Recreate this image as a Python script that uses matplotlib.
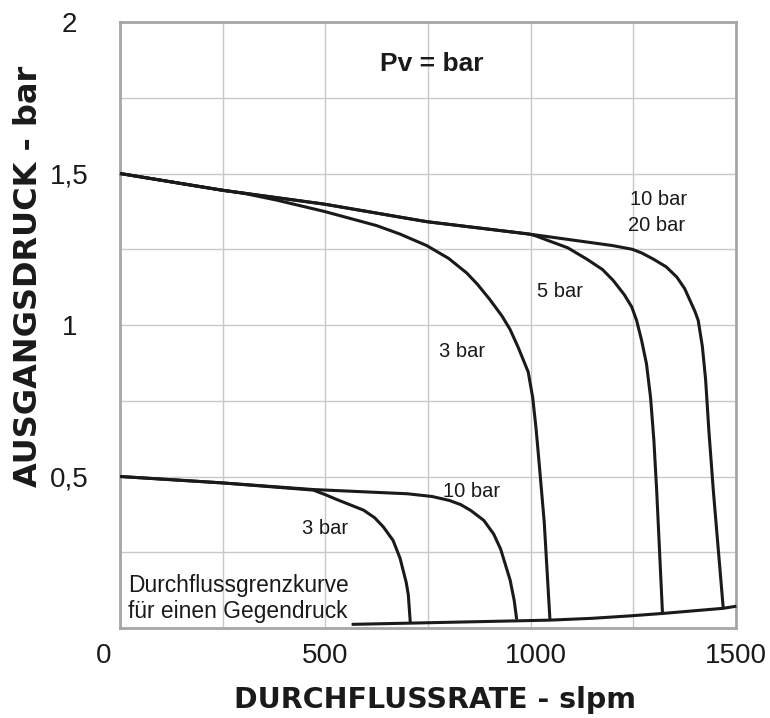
import matplotlib
matplotlib.use('Agg')
import matplotlib.pyplot as plt
import matplotlib.transforms as mtransforms

plt.rcParams['font.family'] = ['Liberation Sans', 'DejaVu Sans']

# Kennlinien oben (Ausgangsdruck 1,5 bar)
up_10_x = [0, 248, 497, 682, 747, 997, 1200, 1247, 1270, 1298, 1330, 1356, 1375, 1388, 1400, 1408, 1418, 1426, 1434, 1445, 1469]
up_10_y = [1.50, 1.445, 1.399, 1.356, 1.341, 1.300, 1.262, 1.250, 1.238, 1.218, 1.192, 1.158, 1.120, 1.081, 1.045, 1.015, 0.930, 0.820, 0.650, 0.450, 0.064]

up_5_x = [0, 248, 497, 682, 747, 997, 1015, 1040, 1090, 1136, 1175, 1201, 1228, 1246, 1258, 1270, 1282, 1292, 1300, 1307, 1321]
up_5_y = [1.50, 1.445, 1.399, 1.356, 1.341, 1.300, 1.293, 1.280, 1.255, 1.218, 1.183, 1.147, 1.100, 1.060, 1.015, 0.950, 0.872, 0.760, 0.620, 0.450, 0.048]

up_3_x = [0, 248, 300, 382, 497, 625, 682, 747, 800, 844, 870, 900, 930, 950, 970, 994, 1005, 1013, 1020, 1033, 1047]
up_3_y = [1.50, 1.445, 1.435, 1.412, 1.375, 1.328, 1.300, 1.262, 1.220, 1.172, 1.135, 1.085, 1.030, 0.985, 0.925, 0.845, 0.760, 0.660, 0.554, 0.350, 0.026]

# Kennlinien unten (Ausgangsdruck 0,5 bar)
lo_10_x = [0, 248, 471, 700, 760, 802, 830, 854, 886, 910, 927, 950, 960, 966]
lo_10_y = [0.50, 0.479, 0.457, 0.443, 0.434, 0.421, 0.407, 0.388, 0.355, 0.310, 0.260, 0.158, 0.090, 0.028]

lo_3_x = [0, 248, 471, 500, 528, 593, 620, 641, 665, 682, 697, 702, 707]
lo_3_y = [0.50, 0.479, 0.455, 0.440, 0.424, 0.389, 0.364, 0.334, 0.289, 0.230, 0.150, 0.110, 0.016]

# Durchflussgrenzkurve
grenz_x = [564, 876, 1047, 1150, 1242, 1321, 1469, 1501]
grenz_y = [0.012, 0.021, 0.026, 0.032, 0.040, 0.048, 0.065, 0.072]

x_ticks = [0, 500, 1000, 1500]
x_ticklabels = ['0', '500', '1000', '1500']
y_ticks = [0.5, 1.0, 1.5, 2.0]
y_ticklabels = ['0,5', '1', '1,5', '2']

fig = plt.figure(figsize=(7.7, 7.18), dpi=100)
ax = fig.add_axes([120 / 770, 90 / 718, 616 / 770, 606 / 718])

line_kw = dict(color='#1a1a1a', lw=2.2, solid_joinstyle='round', solid_capstyle='butt', zorder=3)
for xs, ys in [(up_10_x, up_10_y), (up_5_x, up_5_y), (up_3_x, up_3_y),
               (lo_10_x, lo_10_y), (lo_3_x, lo_3_y), (grenz_x, grenz_y)]:
    ax.plot(xs, ys, clip_on=False, **line_kw)

ax.set_xlim(0, 1500)
ax.set_ylim(0, 2)
ax.set_xticks(x_ticks, x_ticklabels)
ax.set_xticks([250, 750, 1250], minor=True)
ax.set_yticks(y_ticks, y_ticklabels)
ax.set_yticks([0.25, 0.75, 1.25, 1.75], minor=True)
ax.grid(which='both', color='#c8c8c8', lw=1.0)
ax.set_axisbelow(True)
ax.tick_params(which='both', length=0, labelsize=20, colors='#1a1a1a')
ax.tick_params(axis='x', pad=10.5)
ax.tick_params(axis='y', pad=36.5)
for lbl in ax.get_yticklabels():
    lbl.set_horizontalalignment('center')

# small shifts of the x tick labels as in the original
shifts = {'0': -16, '1000': 5}
for lbl in ax.get_xticklabels():
    dx = shifts.get(lbl.get_text(), 0)
    if dx:
        lbl.set_transform(lbl.get_transform() + mtransforms.ScaledTranslation(dx / 100, 0, fig.dpi_scale_trans))

for side in ['left', 'right', 'top', 'bottom']:
    ax.spines[side].set_color('#a6a6a6')
    ax.spines[side].set_linewidth(2.0)

# Beschriftungen
txt = '#1a1a1a'
ax.text(760, 1.861, 'Pv = bar', fontsize=19, fontweight='bold', ha='center', va='center', color=txt)
ax.text(1242, 1.413, '10 bar', fontsize=14.5, ha='left', va='center', color=txt)
ax.text(1237, 1.330, '20 bar', fontsize=14.5, ha='left', va='center', color=txt)
ax.text(1071, 1.109, '5 bar', fontsize=14.5, ha='center', va='center', color=txt)
ax.text(833, 0.911, '3 bar', fontsize=14.5, ha='center', va='center', color=txt)
ax.text(857, 0.449, '10 bar', fontsize=14.5, ha='center', va='center', color=txt)
ax.text(499, 0.330, '3 bar', fontsize=14.5, ha='center', va='center', color=txt)
ax.text(19, 0.139, 'Durchflussgrenzkurve', fontsize=16.4, ha='left', va='center', color=txt)
ax.text(19, 0.056, 'für einen Gegendruck', fontsize=16.4, ha='left', va='center', color=txt)

fig.text(435 / 770, 1 - 708.3 / 718, 'DURCHFLUSSRATE - slpm', family='DejaVu Sans',
         fontweight='bold', fontsize=20.5, ha='center', va='baseline', color=txt)
fig.text(37 / 770, 1 - 276 / 718, 'AUSGANGSDRUCK - bar', family='DejaVu Sans',
         fontweight='bold', fontsize=23, rotation=90, rotation_mode='anchor',
         ha='center', va='baseline', color=txt)

fig.savefig('out.png', dpi=100)
